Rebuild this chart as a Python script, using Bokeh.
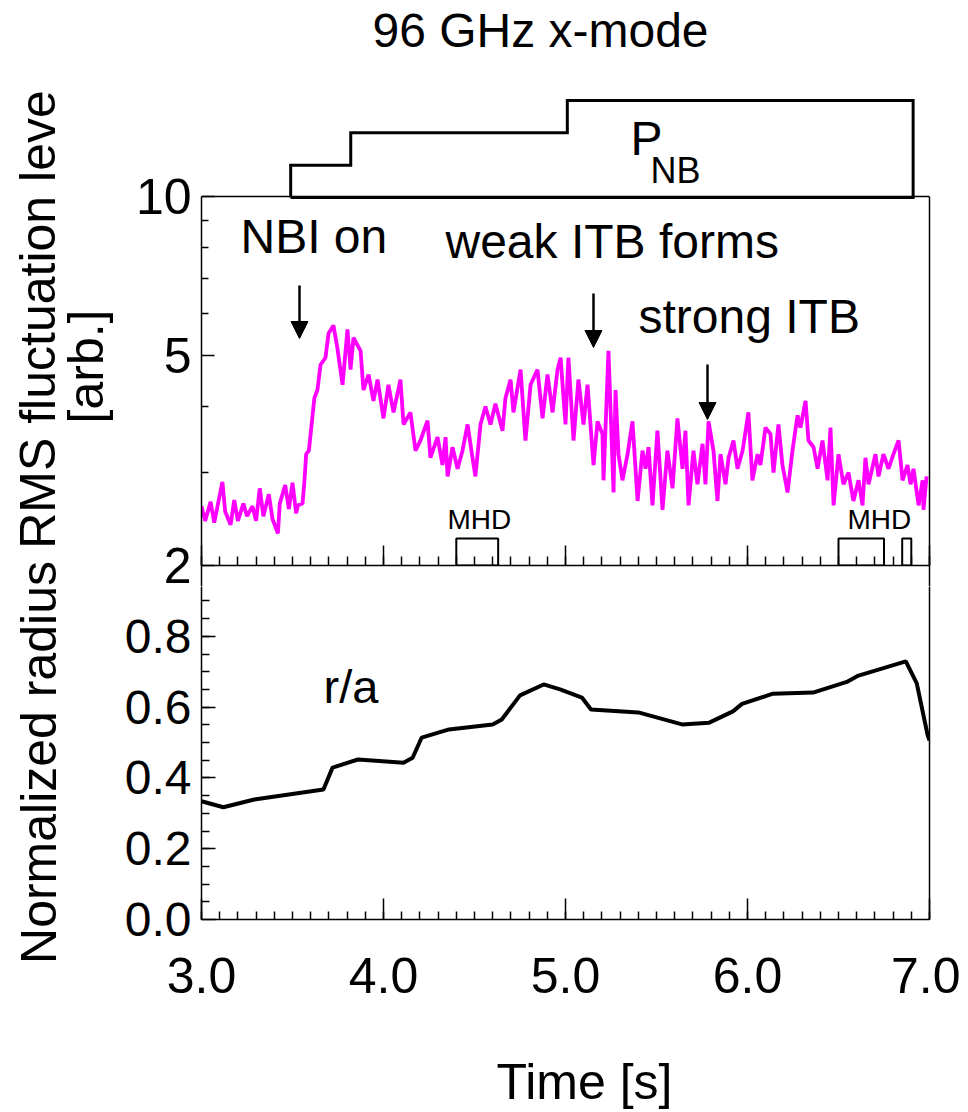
import math
import numpy as np
from bokeh.plotting import figure
from bokeh.models import (Range1d, LinearScale, FixedTicker, Label, Arrow, NormalHead,
                          LinearAxis, LogAxis)
from bokeh.layouts import column, row
from bokeh.embed import file_html
from bokeh.resources import INLINE

# ---------------- data ----------------
rms_t = [3.00, 3.02, 3.05, 3.07, 3.09, 3.115, 3.13, 3.16, 3.18, 3.20, 3.23, 3.25, 3.28, 3.30,
         3.32, 3.34, 3.37, 3.39, 3.42, 3.43, 3.46, 3.48, 3.50, 3.52, 3.53, 3.555, 3.565, 3.575,
         3.59, 3.605, 3.62, 3.637, 3.654, 3.681, 3.698, 3.725, 3.747, 3.775, 3.802, 3.819, 3.835,
         3.874, 3.890, 3.918, 3.945, 3.967, 4.000, 4.027, 4.055, 4.093, 4.110, 4.148, 4.176, 4.203,
         4.242, 4.258, 4.297, 4.324, 4.341, 4.352, 4.379, 4.407, 4.434, 4.462, 4.489, 4.505, 4.533,
         4.560, 4.588, 4.615, 4.654, 4.670, 4.698, 4.714, 4.753, 4.780, 4.808, 4.846, 4.874, 4.901,
         4.929, 4.956, 4.973, 5.000, 5.016, 5.044, 5.071, 5.099, 5.121, 5.154, 5.176, 5.203, 5.209,
         5.236, 5.264, 5.275, 5.291, 5.313, 5.341, 5.368, 5.396, 5.423, 5.440, 5.456, 5.478, 5.505,
         5.533, 5.560, 5.588, 5.615, 5.643, 5.659, 5.676, 5.703, 5.725, 5.753, 5.769, 5.786, 5.813,
         5.835, 5.852, 5.879, 5.896, 5.923, 5.945, 5.973, 6.005, 6.027, 6.055, 6.071, 6.099, 6.126,
         6.143, 6.170, 6.192, 6.220, 6.247, 6.275, 6.291, 6.319, 6.335, 6.363, 6.385, 6.412, 6.440,
         6.456, 6.473, 6.500, 6.527, 6.555, 6.582, 6.610, 6.632, 6.648, 6.665, 6.703, 6.720, 6.747,
         6.775, 6.802, 6.830, 6.852, 6.879, 6.896, 6.912, 6.940, 6.962, 6.967, 6.984]
rms_v = [2.59, 2.43, 2.64, 2.41, 2.61, 2.88, 2.53, 2.39, 2.66, 2.43, 2.62, 2.48, 2.59, 2.43,
         2.80, 2.48, 2.73, 2.45, 2.30, 2.62, 2.84, 2.56, 2.87, 2.51, 2.60, 2.62, 2.87, 3.25,
         3.30, 3.70, 4.15, 4.30, 4.80, 4.95, 5.50, 5.70, 5.15, 4.40, 5.60, 4.70, 5.40,
         5.10, 4.30, 4.60, 4.10, 4.50, 3.80, 4.40, 3.90, 4.50, 3.70, 3.90, 3.30, 3.45,
         3.76, 3.20, 3.50, 3.10, 3.50, 2.95, 3.35, 3.05, 3.30, 3.70, 3.20, 2.95, 3.70,
         4.00, 3.70, 4.05, 3.60, 4.15, 4.50, 3.90, 4.70, 3.45, 4.40, 4.70, 3.80, 4.60,
         3.90, 4.70, 4.95, 3.70, 4.95, 3.45, 4.50, 3.70, 4.40, 3.10, 3.75, 3.55, 2.90,
         5.10, 2.75, 4.30, 3.25, 2.90, 3.25, 3.75, 2.65, 3.30, 3.05, 3.35, 2.60, 3.60,
         2.55, 3.30, 2.80, 3.80, 3.05, 3.60, 2.60, 3.30, 2.85, 3.40, 2.85, 3.75, 3.30,
         2.65, 3.25, 2.85, 3.20, 3.45, 3.05, 3.30, 3.90, 2.90, 3.25, 3.10, 3.65, 3.55,
         3.00, 3.70, 3.10, 2.75, 3.30, 3.85, 3.65, 4.10, 3.45, 3.35, 3.05, 3.45, 2.90,
         3.65, 2.60, 3.25, 2.85, 3.00, 2.65, 2.90, 2.60, 3.20, 2.85, 3.25, 2.95, 3.25,
         3.05, 3.25, 3.45, 2.90, 3.10, 2.85, 3.05, 2.60, 2.90, 2.55, 2.95]

ra_t = [3.00, 3.12, 3.29, 3.67, 3.72, 3.86, 4.11, 4.16, 4.21, 4.36, 4.60, 4.65, 4.75, 4.88,
        4.97, 5.09, 5.14, 5.40, 5.64, 5.79, 5.92, 5.97, 6.14, 6.36, 6.55, 6.61, 6.87, 6.93,
        6.99, 7.00]
ra_v = [0.334, 0.317, 0.339, 0.367, 0.429, 0.452, 0.443, 0.457, 0.514, 0.537, 0.551, 0.565,
        0.633, 0.664, 0.650, 0.627, 0.593, 0.585, 0.551, 0.556, 0.588, 0.609, 0.638, 0.641,
        0.672, 0.689, 0.729, 0.667, 0.520, 0.506]

pnb_edges = [3.49, 3.82, 5.01, 6.91]
pnb_level = [1, 2, 3]

mhd_start = [4.40, 6.50, 6.85]
mhd_end = [4.63, 6.75, 6.90]

x_ticks = [3, 4, 5, 6, 7]
x_tick_labels = ["3.0", "4.0", "5.0", "6.0", "7.0"]
rms_ticks = [2, 5, 10]
rms_tick_labels = ["2", "5", "10"]
rms_minor = [3, 4, 6, 7, 8, 9]
ra_ticks = [0.0, 0.2, 0.4, 0.6, 0.8]
ra_tick_labels = ["0.0", "0.2", "0.4", "0.6", "0.8"]

# ---------------- layout (screen px) ----------------
LW = 120            # left label strip
FL, FR = 201, 929   # frame x
B1 = 565            # bottom of log panel
GAP = 21            # strip below log panel held by the top figure
T2 = B1 + GAP       # top of the bottom figure frame
B2 = 919            # bottom of bottom panel
H2END = 1030        # end of bottom figure
HTOT = 1110
WR = 960
PW = WR - LW
REG = "Liberation Sans"


def X(px):
    return 3 + (px - FL) * 4.0 / (FR - FL)


def Y1(py):
    return 2 * 5 ** ((B1 - py) / 369.0)


PPU = (B2 - B1) / 1.0   # px per unit r/a


def Y2(py):
    return (B2 - py) / PPU


PN = 97 / 3.0  # px per PNB unit

x_minor = list(np.round(np.arange(3.0, 7.001, 0.1), 3))


def style_axis(a, font_size="50px"):
    a.axis_line_width = 1.5
    a.major_tick_line_width = 1.5
    a.minor_tick_line_width = 1.5
    a.axis_line_color = "black"
    a.major_tick_line_color = "black"
    a.minor_tick_line_color = "black"
    a.major_label_text_font = REG
    a.major_label_text_font_size = font_size
    a.major_label_text_color = "black"


def lab(p, x, y, text, size, align="left", angle=0.0):
    p.add_layout(Label(x=x, y=y, text=text, text_font=REG, text_font_size=size,
                       text_align=align, text_baseline="alphabetic", angle=angle,
                       text_color="black"))


# ---------------- top figure (title, PNB, log panel) ----------------
p1 = figure(width=PW, height=T2, y_axis_type="log",
            x_range=Range1d(3, 7), y_range=Range1d(2, Y1(0)),
            output_backend="svg", toolbar_location=None,
            min_border_left=FL - LW, min_border_right=WR - FR,
            min_border_top=0, min_border_bottom=GAP)
p1.grid.visible = False
p1.outline_line_color = None
p1.border_fill_color = "white"
p1.extra_y_ranges = {"pnb": Range1d((197 - B1) / PN, 197 / PN)}
p1.extra_y_scales = {"pnb": LinearScale()}

ya = p1.yaxis[0]
ya.ticker = FixedTicker(ticks=rms_ticks, minor_ticks=rms_minor)
ya.bounds = (2, 10)
ya.major_label_overrides = {t: s for t, s in zip(rms_ticks, rms_tick_labels)}
ya.major_tick_in = 13
ya.major_tick_out = 0
ya.minor_tick_in = 7
ya.minor_tick_out = 0
ya.major_label_standoff = 10
style_axis(ya)
ya.major_label_text_line_height = 0.75

xa = p1.xaxis[0]
xa.ticker = FixedTicker(ticks=x_ticks, minor_ticks=x_minor)
xa.major_tick_in = 20
xa.major_tick_out = 0
xa.minor_tick_in = 9
xa.minor_tick_out = 0
xa.major_label_standoff = 0
style_axis(xa, "0px")

# continuation of the lower panel's side lines in the strip below the log panel
edge_ax = LinearAxis(ticker=FixedTicker(ticks=[3, 7], minor_ticks=[]))
edge_ax.major_tick_in = 0
edge_ax.major_tick_out = GAP
edge_ax.major_label_standoff = 0
style_axis(edge_ax, "0px")
edge_ax.axis_line_color = None
p1.add_layout(edge_ax, "below")

# right edge of the log panel
r_ax = LogAxis(ticker=FixedTicker(ticks=[], minor_ticks=[]), bounds=(2, 10))
r_ax.major_label_standoff = 0
style_axis(r_ax, "0px")
p1.add_layout(r_ax, "right")

# top edge of the log panel
p1.segment(x0=[3], y0=[10], x1=[7], y1=[10], line_width=1.5, line_color="black")

# PNB staircase
e, l = pnb_edges, pnb_level
px_ = [e[0], e[0], e[1], e[1], e[2], e[2], e[3], e[3], e[0]]
py_ = [0, l[0], l[0], l[1], l[1], l[2], l[2], 0, 0]
p1.line(px_, py_, y_range_name="pnb", line_width=3, line_color="black", line_join="miter")

# MHD boxes
p1.quad(left=mhd_start, right=mhd_end, bottom=[2] * len(mhd_start), top=[Y1(538)] * len(mhd_start),
        fill_color=None, line_color="black", line_width=2)

# RMS signal
p1.line(rms_t, rms_v, line_color="#ff00ff", line_width=3.8)

# arrows
for ax_, y0, y1 in [(299, 285, 338), (593, 293, 347), (707, 364, 419)]:
    p1.add_layout(Arrow(end=NormalHead(size=17, fill_color="black", line_color="black", line_width=1),
                        x_start=X(ax_), y_start=Y1(y0), x_end=X(ax_), y_end=Y1(y1),
                        line_width=2.5, line_color="black"))

# (label anchors: vertical centre of the capitals)
lab(p1, X(540), Y1(30), "96 GHz x-mode", "48px", align="center")
lab(p1, X(240), Y1(236), "NBI on", "48px")
lab(p1, X(445), Y1(241), "weak ITB forms", "48px")
lab(p1, X(638), Y1(316), "strong ITB", "48px")
lab(p1, X(447), Y1(519), "MHD", "28px")
lab(p1, X(847), Y1(519), "MHD", "28px")
lab(p1, X(630), Y1(138), "P", "48px")
lab(p1, X(650), Y1(170), "NB", "36px")

# ---------------- bottom figure (r/a) ----------------
p2 = figure(width=PW, height=H2END - T2, x_range=p1.x_range, y_range=Range1d(0, (B2 - T2) / PPU),
            output_backend="svg", toolbar_location=None,
            min_border_left=FL - LW, min_border_right=WR - FR,
            min_border_top=0, min_border_bottom=H2END - B2)
p2.grid.visible = False
p2.outline_line_color = None
p2.border_fill_color = "white"

ya2 = p2.yaxis[0]
ya2.ticker = FixedTicker(ticks=ra_ticks, minor_ticks=list(np.round(np.arange(0.05, 0.951, 0.05), 3)))
ya2.major_label_overrides = {t: s for t, s in zip(ra_ticks, ra_tick_labels)}
ya2.major_tick_in = 14
ya2.major_tick_out = 0
ya2.minor_tick_in = 8
ya2.minor_tick_out = 0
ya2.major_label_standoff = 10
style_axis(ya2, "48px")

xa2 = p2.xaxis[0]
xa2.ticker = FixedTicker(ticks=x_ticks, minor_ticks=x_minor)
xa2.major_label_overrides = {t: s for t, s in zip(x_ticks, x_tick_labels)}
xa2.major_tick_in = 21
xa2.major_tick_out = 0
xa2.minor_tick_in = 8
xa2.minor_tick_out = 0
xa2.major_label_standoff = 38
style_axis(xa2, "50px")

r_ax2 = LinearAxis(ticker=FixedTicker(ticks=[], minor_ticks=[]))
r_ax2.major_label_standoff = 0
style_axis(r_ax2, "0px")
p2.add_layout(r_ax2, "right")

p2.line(ra_t, ra_v, line_color="black", line_width=4)
lab(p2, X(323), Y2(686), "r/a", "47px")

# ---------------- left label strip ----------------
p0 = figure(width=LW, height=H2END, x_range=Range1d(0, LW), y_range=Range1d(H2END, 0),
            x_axis_location=None, y_axis_location=None,
            output_backend="svg", toolbar_location=None, min_border=0)
p0.grid.visible = False
p0.outline_line_color = None
lab(p0, 37, 319, "RMS fluctuation leve", "50px", align="center", angle=math.pi / 2)
lab(p0, 85, 366, "[arb.]", "50px", align="center", angle=math.pi / 2)
lab(p0, 38, 762, "Normalized radius", "50px", align="center", angle=math.pi / 2)

# ---------------- bottom label strip ----------------
p3 = figure(width=WR, height=HTOT - H2END, x_range=Range1d(0, WR), y_range=Range1d(HTOT, H2END),
            x_axis_location=None, y_axis_location=None,
            output_backend="svg", toolbar_location=None, min_border=0)
p3.grid.visible = False
p3.outline_line_color = None
lab(p3, 584, 1081, "Time [s]", "50px", align="center")

layout = column(row(p0, column(p1, p2, spacing=0), spacing=0), p3, spacing=0)
open("out.html", "w").write(file_html(layout, INLINE))
